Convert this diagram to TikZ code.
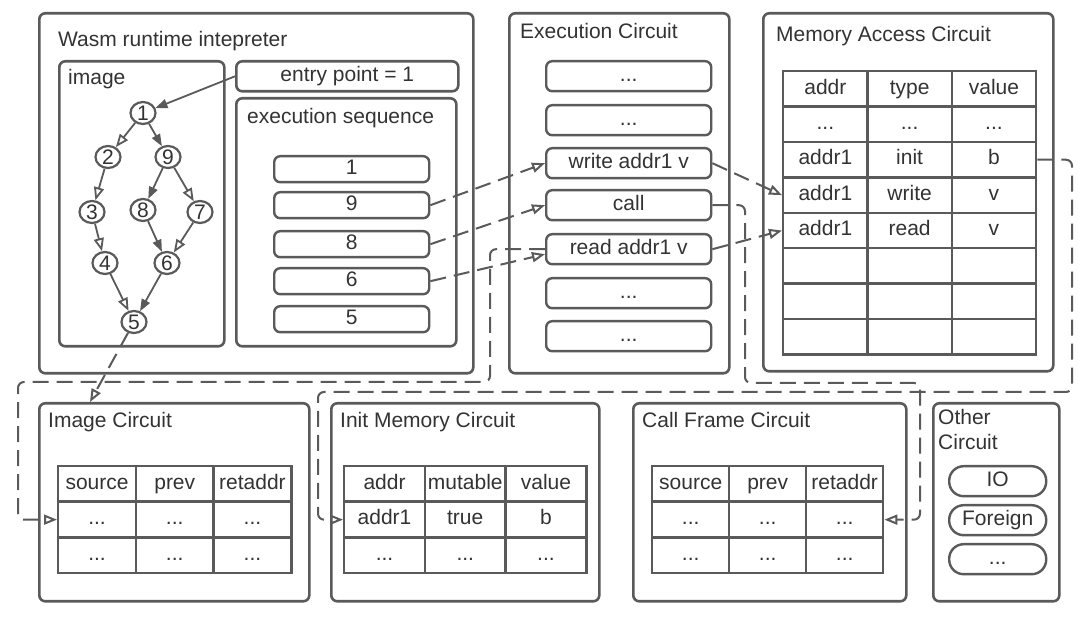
\documentclass[tikz,border=0pt]{standalone}
\usepackage{fontspec}
\setmainfont{Liberation Sans}
\usetikzlibrary{arrows.meta,shapes.geometric}
\definecolor{ln}{HTML}{5A5A5A}
\definecolor{tx}{HTML}{333333}
\newcommand{\dts}{...}
\begin{document}
\begin{tikzpicture}[x=1pt,y=-1pt,
	every node/.style={text=tx,font=\fontsize{21}{24}\selectfont},
	box/.style={draw=ln,line width=2.6pt,rounded corners=6pt,anchor=north west,inner sep=0pt,text height=15pt,text depth=4.5pt},
	cell/.style={draw=ln,line width=2.4pt,anchor=north west,inner sep=0pt,minimum height=35.5pt,text height=15pt,text depth=4.5pt},
	num/.style={draw=ln,ellipse,line width=2.2pt,inner sep=0pt,minimum width=25pt,minimum height=22pt,font=\fontsize{21}{22}\selectfont},
	ttl/.style={anchor=base west,inner sep=0pt},
	opn/.style={-{Triangle[open,length=13pt,width=10pt]}},
	fll/.style={-{Triangle[length=12pt,width=9pt]}},
	dlink/.style={draw=ln,line width=2pt,dash pattern=on 16pt off 8pt,opn}]
	\useasboundingbox[fill=white](0,0)rectangle(1080,617);
	\node[box,minimum width=434pt,minimum height=360pt](wasm)at(38,12){};
	\node[ttl]at(58,47){Wasm runtime intepreter};
	\node[box,minimum width=165pt,minimum height=285pt](img)at(58,60){};
	\node[ttl]at(68,85){image};
	\node[box,minimum width=222pt,minimum height=30pt](entry)at(235,60){entry point = 1};
	\node[box,minimum width=220pt,minimum height=248pt](seq)at(235,97){};
	\node[ttl]at(247,124){execution sequence};
	\foreach \n/\y in {1/155,9/191,8/230,6/267,5/305}
		\node[box,line width=2.4pt,minimum width=155pt,minimum height=26pt](s\n)at(273,\y){\n};
	\foreach \n/\x/\y in {1/143/113,2/108/157,9/168/157,3/92/212,8/143/210,7/200/212,4/105/263,6/167/263,5/134/322}
		\node[num](n\n)at(\x,\y){\n};
	\foreach \a/\b in {1/2,2/3,3/4,4/5,9/7,7/6}
		\draw[ln,line width=1.8pt,opn](n\a)--(n\b);
	\foreach \a/\b in {1/9,9/8,8/6,6/5}
		\draw[ln,line width=1.8pt,fll](n\a)--(n\b);
	\draw[ln,line width=1.8pt,fll](entry.west)--(n1);
	\node[box,minimum width=220pt,minimum height=360pt](exe)at(508,12){};
	\node[ttl]at(520,39){Execution Circuit};
	\foreach \n/\y/\t in {e1/60/\dts,e2/104/\dts,ewrite/147/write addr1 v,ecall/189/call,eread/233/read addr1 v,e6/277/\dts,e7/320/\dts}
		\node[box,line width=2.4pt,minimum width=165pt,minimum height=30pt](\n)at(545,\y){\t};
	\node[box,minimum width=290pt,minimum height=358pt](mem)at(762,12){};
	\node[ttl]at(776,42){Memory Access Circuit};
	\foreach \row [count=\r] in {{addr,type,value},{\dts,\dts,\dts},{addr1,init,b},{addr1,write,v},{addr1,read,v},{{},{},{}},{{},{},{}},{{},{},{}}}
		\foreach \t [count=\c] in \row
			\node[cell,minimum width=84.3pt](ma-\r-\c)at({782+84.3*(\c-1)},{70+35.4*(\r-1)}){\t};
	\node[box,minimum width=270pt,minimum height=198pt](ic)at(38,402){};
	\node[ttl]at(48,428){Image Circuit};
	\foreach \row [count=\r] in {{source,prev,retaddr},{\dts,\dts,\dts},{\dts,\dts,\dts}}
		\foreach \t [count=\c] in \row
			\node[cell,minimum width=77.7pt](ic-\r-\c)at({57+77.7*(\c-1)},{465+35.7*(\r-1)}){\t};
	\node[box,minimum width=268pt,minimum height=198pt](im)at(330,402){};
	\node[ttl]at(340,428){Init Memory Circuit};
	\foreach \row [count=\r] in {{addr,mutable,value},{addr1,true,b},{\dts,\dts,\dts}}
		\foreach \t [count=\c] in \row
			\node[cell,minimum width=80.7pt](im-\r-\c)at({343+80.7*(\c-1)},{465+35.7*(\r-1)}){\t};
	\node[box,minimum width=273pt,minimum height=198pt](cf)at(632,402){};
	\node[ttl]at(642,428){Call Frame Circuit};
	\foreach \row [count=\r] in {{source,prev,retaddr},{\dts,\dts,\dts},{\dts,\dts,\dts}}
		\foreach \t [count=\c] in \row
			\node[cell,minimum width=77pt](cf-\r-\c)at({651+77*(\c-1)},{465+35.7*(\r-1)}){\t};
	\node[box,minimum width=126pt,minimum height=198pt](oth)at(932,402){};
	\node[anchor=north west,inner sep=0pt,align=left,font=\fontsize{21}{25}\selectfont]at(938,409.5){Other\\Circuit};
	\foreach \n/\y/\t in {io/465/IO,fgn/504/Foreign,odts/543/\dts}
		\node[box,line width=2.4pt,rounded corners=14.5pt,minimum width=97pt,minimum height=30pt](\n)at(948,\y){\t};
	\draw[dlink](n5)--([xshift=52pt]ic.north west);
	\draw[dlink](s9.east)--(ewrite.west);
	\draw[dlink](s8.east)--(ecall.west);
	\draw[dlink](s6.east)--([yshift=-5pt]eread.west);
	\draw[dlink](ewrite.east)--(ma-4-1.west);
	\draw[dlink](eread.east)--(ma-5-1.west);
	\draw[dlink,rounded corners=6pt](ecall.east)-|(745,383)--(920,383)|-(cf-2-3.east);
	\draw[dlink,rounded corners=6pt](ma-3-3.east)-|(1072,392)--(318,392)|-(im-2-1.west);
	\draw[dlink,rounded corners=6pt](eread.west)-|(490,382)--(18,382)|-(ic-2-1.west);
\end{tikzpicture}
\end{document}
